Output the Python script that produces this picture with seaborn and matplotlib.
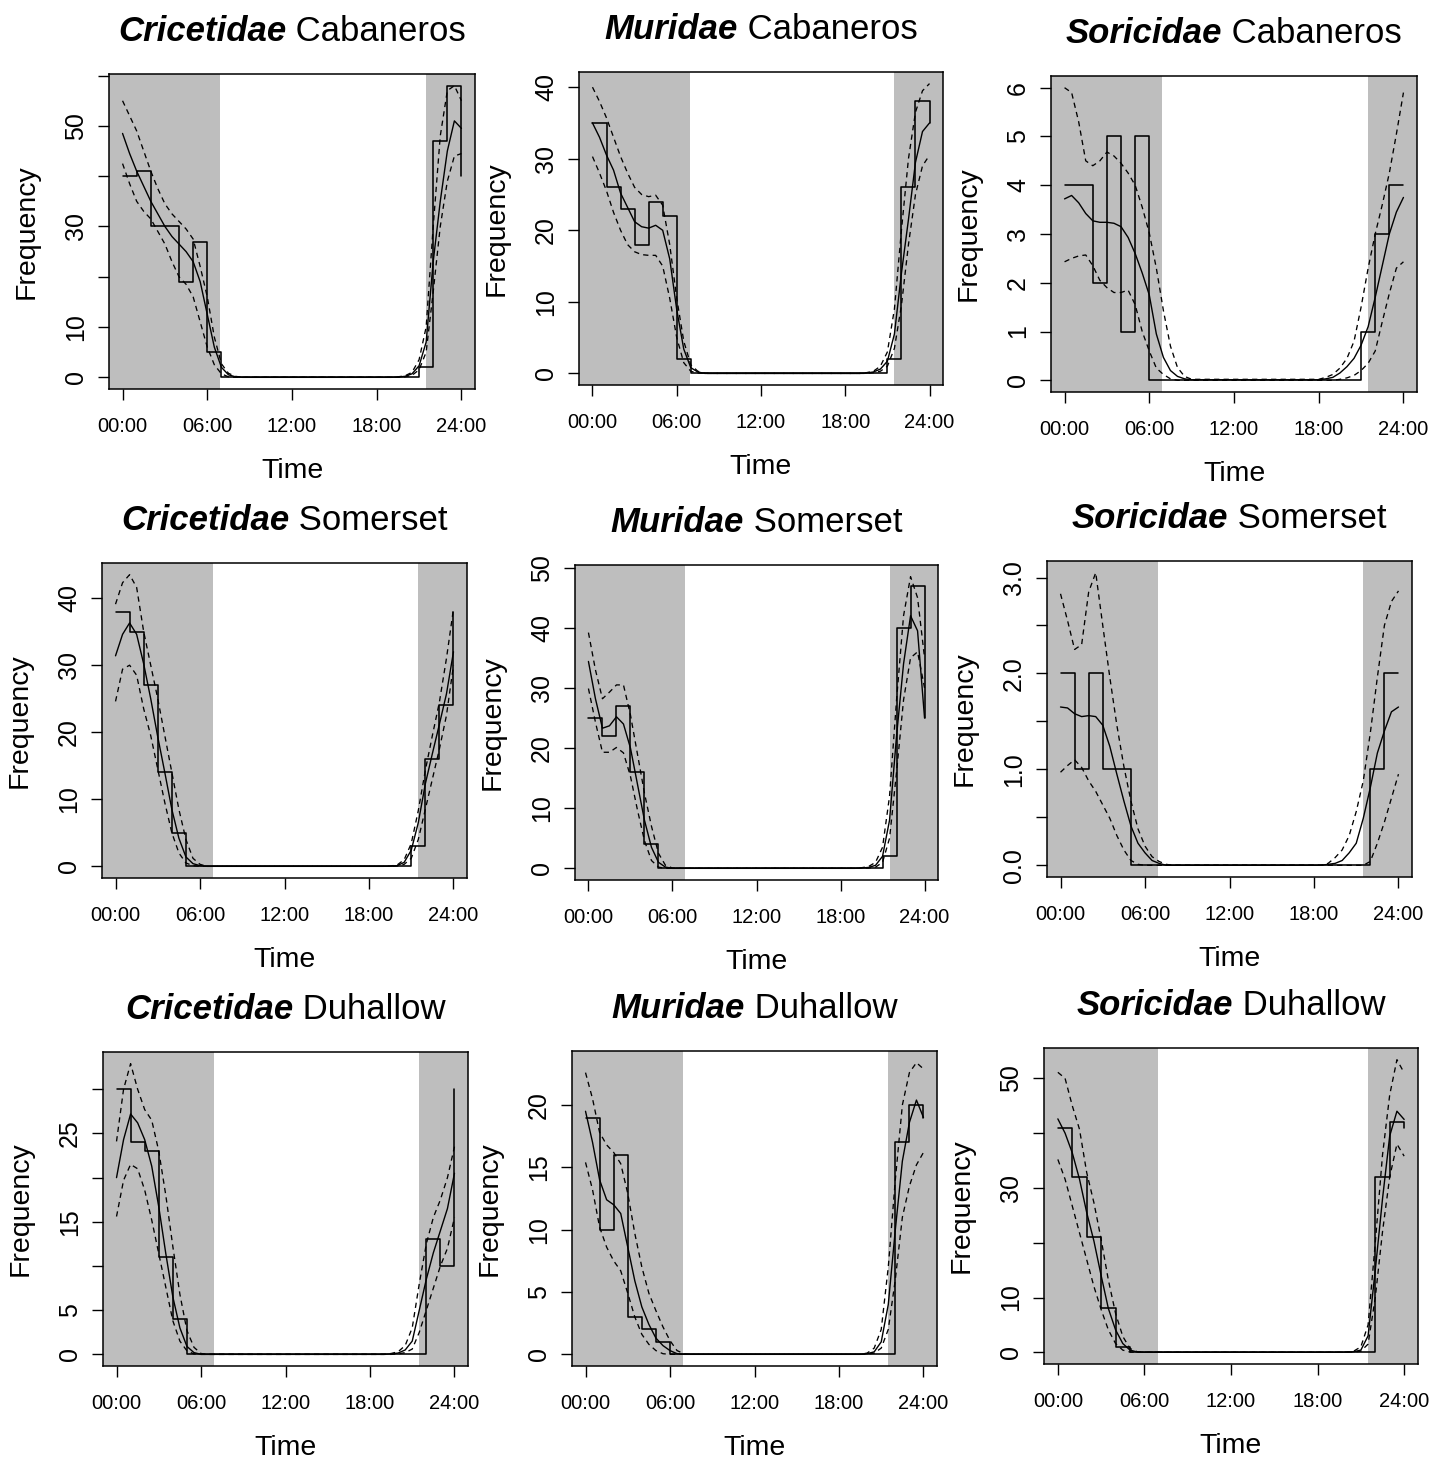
import matplotlib
matplotlib.use("Agg")
import matplotlib.pyplot as plt
from matplotlib.transforms import IdentityTransform
import pandas as pd
import seaborn as sns

# ---------------- data ----------------
hours = list(range(25))                      # hourly bins 00:00 .. 24:00
curve_hours = [0, 0.5, 1, 1.5, 2, 2.5, 3, 3.5, 4, 4.5, 5, 5.5, 6, 6.5, 7, 7.5, 8, 8.5, 9,
               18, 18.5, 19, 19.5, 20, 20.5, 21, 21.5, 22, 22.5, 23, 23.5, 24]
tick_hours = [0, 6, 12, 18, 24]
tick_labels = ["00:00", "06:00", "12:00", "18:00", "24:00"]
sunrise = 6.93
sunset = 21.5

families = ["Cricetidae", "Muridae", "Soricidae"]
sites = ["Cabaneros", "Somerset", "Duhallow"]

# observed hourly frequencies (value at hour h holds for [h, h+1))
cc_counts = [40, 41, 30, 30, 19, 27, 5] + [0] * 14 + [2, 47, 58, 40]
mc_counts = [35, 26, 23, 18, 24, 22, 2] + [0] * 14 + [2, 26, 38, 35]
sc_counts = [4, 4, 2, 5, 1, 5] + [0] * 15 + [1, 3, 4, 4]
cs_counts = [38, 35, 27, 14, 5] + [0] * 16 + [3, 16, 24, 38]
ms_counts = [25, 22, 27, 16, 4] + [0] * 16 + [2, 40, 47, 25]
ss_counts = [2, 1, 2, 1, 1] + [0] * 17 + [1, 2, 2]
cd_counts = [30, 24, 23, 11, 4] + [0] * 17 + [13, 10, 30]
md_counts = [19, 10, 16, 3, 2, 1] + [0] * 16 + [17, 20, 19]
sd_counts = [41, 32, 21, 8, 1] + [0] * 17 + [32, 42, 41]

# fitted activity curves (solid) and confidence bounds (dashed) at curve_hours
cc_fit = [48.5, 44.5, 41, 38, 35, 32.5, 30, 28, 26.5, 25, 23, 19, 12.5, 6, 2, 0.5, 0.1, 0, 0,
          0, 0, 0, 0.05, 0.2, 0.7, 2.3, 7, 23, 35, 45, 51, 49.5]
cc_upper = [55, 52, 49, 45, 41, 37.5, 34.5, 32.5, 31, 29.5, 27.5, 22, 16, 8, 2.7, 0.8, 0.2, 0, 0,
            0, 0, 0, 0.1, 0.3, 1, 3.5, 10, 30, 48, 57, 58, 55]
cc_lower = [42.5, 38.5, 35, 33, 31.5, 29, 26.5, 23, 20, 18.5, 16, 11, 6, 2.5, 0.7, 0.1, 0, 0, 0,
            0, 0, 0, 0, 0.1, 0.4, 1.5, 5, 17, 30, 39, 44, 44.5]

mc_fit = [35, 33, 30.5, 28.4, 25.2, 23.2, 21.2, 20.5, 20.3, 20.7, 20, 16, 8.9, 3.4, 0.8, 0.2, 0, 0, 0,
          0, 0, 0, 0.05, 0.2, 0.6, 1.7, 5.5, 14, 21.5, 29.5, 33.8, 35]
mc_upper = [40, 38, 35.7, 33, 30.3, 28, 26, 25, 24.7, 24.9, 23.5, 18, 10.5, 4.5, 1.2, 0.3, 0.05, 0, 0,
            0, 0, 0, 0.1, 0.3, 1, 3, 9, 20, 30, 36.5, 39.5, 40.5]
mc_lower = [30.3, 28, 25.5, 22.5, 20, 18, 17, 16.6, 16.5, 16.5, 15, 10.5, 5, 1.5, 0.3, 0.05, 0, 0, 0,
            0, 0, 0, 0, 0.1, 0.3, 1, 3.5, 9.5, 18, 25, 29, 30.5]

sc_fit = [3.72, 3.79, 3.64, 3.42, 3.27, 3.24, 3.24, 3.22, 3.15, 2.93, 2.6, 2.2, 1.75, 0.95, 0.47, 0.2, 0.08, 0.03, 0.01,
          0.01, 0.03, 0.06, 0.15, 0.28, 0.45, 0.72, 1.1, 1.7, 2.35, 3.0, 3.45, 3.75]
sc_upper = [6.0, 5.9, 5.3, 4.5, 4.4, 4.5, 4.68, 4.6, 4.45, 4.25, 4.0, 3.55, 3.02, 2.3, 1.43, 0.7, 0.26, 0.08, 0.02,
            0.02, 0.06, 0.12, 0.25, 0.45, 0.8, 1.5, 2.3, 3.0, 3.6, 4.25, 5.05, 5.9]
sc_lower = [2.43, 2.5, 2.55, 2.57, 2.35, 2.05, 1.9, 1.8, 1.8, 1.85, 1.55, 1.0, 0.6, 0.25, 0.12, 0.03, 0, 0, 0,
            0, 0, 0, 0.02, 0.05, 0.1, 0.2, 0.35, 0.6, 1.2, 1.78, 2.3, 2.43]

cs_fit = [31.4, 34.6, 36.3, 34.6, 30.2, 25, 19.3, 14, 8.5, 4.2, 1.4, 0.4, 0.1, 0, 0, 0, 0, 0, 0,
          0, 0, 0, 0.02, 0.1, 0.6, 2.4, 6.5, 12.3, 16.8, 21.2, 25.7, 32]
cs_upper = [39.1, 42.3, 43.5, 41.6, 35, 30, 25, 19.5, 14, 8.5, 4, 1.2, 0.3, 0, 0, 0, 0, 0, 0,
            0, 0, 0, 0.05, 0.2, 1, 3.4, 8.3, 14.3, 19.5, 24.5, 31, 38.4]
cs_lower = [24.6, 29.4, 30, 28.5, 23.5, 19.5, 14.5, 9.5, 5, 2, 0.5, 0.1, 0, 0, 0, 0, 0, 0, 0,
            0, 0, 0, 0, 0.05, 0.3, 1.2, 4, 8.5, 13, 17.5, 22.5, 30]

ms_fit = [34.4, 28.2, 23.3, 23.7, 25.2, 24, 20, 14, 8, 3.5, 1, 0.2, 0, 0, 0, 0, 0, 0, 0,
          0, 0, 0, 0.05, 0.15, 0.5, 2, 8, 22, 34, 42, 39.5, 25]
ms_upper = [39.2, 33, 28.2, 29.3, 30.5, 30.5, 25.5, 19, 12.5, 7, 2.5, 0.5, 0.05, 0, 0, 0, 0, 0, 0,
            0, 0, 0, 0.1, 0.3, 1, 3.5, 12, 28, 42, 48.5, 45, 35]
ms_lower = [29.9, 24.3, 19.3, 19.3, 20.1, 19.2, 15.3, 9.7, 4.6, 1.3, 0.2, 0, 0, 0, 0, 0, 0, 0, 0,
            0, 0, 0, 0, 0.05, 0.2, 1, 5, 16, 28, 35, 36, 30]

ss_fit = [1.65, 1.64, 1.58, 1.55, 1.56, 1.55, 1.46, 1.24, 0.95, 0.67, 0.41, 0.23, 0.13, 0.05, 0.02, 0, 0, 0, 0,
          0, 0, 0.01, 0.02, 0.05, 0.13, 0.23, 0.49, 0.81, 1.17, 1.4, 1.6, 1.65]
ss_upper = [2.83, 2.55, 2.25, 2.3, 2.85, 3.05, 2.5, 1.96, 1.46, 1.03, 0.67, 0.38, 0.2, 0.09, 0.04, 0.01, 0, 0, 0,
            0, 0, 0.02, 0.08, 0.16, 0.31, 0.56, 0.88, 1.38, 1.96, 2.5, 2.75, 2.86]
ss_lower = [0.97, 1.04, 1.1, 1.02, 0.88, 0.77, 0.63, 0.49, 0.31, 0.16, 0.05, 0.01, 0, 0, 0, 0, 0, 0, 0,
            0, 0, 0, 0, 0, 0, 0, 0, 0.04, 0.23, 0.45, 0.7, 0.95]

cd_fit = [20, 24.3, 27.2, 26.2, 24.3, 21.3, 16.7, 11.4, 6.5, 3, 0.9, 0.2, 0, 0, 0, 0, 0, 0, 0,
          0, 0, 0, 0.05, 0.15, 0.5, 1.5, 5, 8.5, 11.5, 14, 16.5, 20.5]
cd_upper = [24.1, 30, 32.9, 30, 27.7, 26.5, 23, 18, 12.2, 6.8, 2.7, 0.8, 0.1, 0, 0, 0, 0, 0, 0,
            0, 0, 0, 0.1, 0.3, 1, 3, 8, 12.5, 15.5, 17.5, 20, 23.5]
cd_lower = [15.6, 19.7, 21.5, 21, 18.6, 15.2, 11.4, 7.6, 3.8, 1.5, 0.4, 0.05, 0, 0, 0, 0, 0, 0, 0,
            0, 0, 0, 0, 0.05, 0.2, 0.6, 2.5, 5, 7.5, 10, 12, 15.5]

md_fit = [19.5, 17, 14, 12.4, 12, 11.3, 8.6, 5.9, 3.8, 2.4, 1.3, 0.7, 0.3, 0.05, 0, 0, 0, 0, 0,
          0, 0, 0, 0, 0.05, 0.2, 1, 4, 10, 15.5, 18.6, 20.4, 19]
md_upper = [22.6, 20.5, 17.8, 16.8, 16.2, 15.3, 12.9, 9.7, 7, 4.9, 3.5, 2.2, 1.1, 0.3, 0.05, 0, 0, 0, 0,
            0, 0, 0, 0, 0.1, 0.5, 2, 7, 14, 20, 22.6, 23.4, 22.9]
md_lower = [15.4, 13.2, 10.2, 8.6, 7.5, 6.7, 4.9, 3, 1.6, 0.8, 0.3, 0.05, 0, 0, 0, 0, 0, 0, 0,
            0, 0, 0, 0, 0.02, 0.1, 0.5, 2, 6, 11, 13.5, 15.2, 16.2]

sd_fit = [42.6, 40, 36.4, 31.6, 25.5, 20.3, 14, 8, 4.1, 1.6, 0.4, 0.05, 0, 0, 0, 0, 0, 0, 0,
          0, 0, 0, 0, 0.02, 0.1, 0.4, 3, 15, 28, 39.5, 44, 42.5]
sd_upper = [51.1, 50, 45, 40.7, 32.8, 27.3, 20.6, 13.2, 7.1, 2.9, 0.7, 0.1, 0, 0, 0, 0, 0, 0, 0,
            0, 0, 0, 0, 0.05, 0.2, 1, 5, 20, 36, 47, 53.4, 51]
sd_lower = [35.2, 31.6, 26.7, 21.8, 16.9, 12, 7.8, 4.1, 1.6, 0.4, 0.05, 0, 0, 0, 0, 0, 0, 0, 0,
            0, 0, 0, 0, 0, 0.05, 0.2, 1.5, 10, 22, 32, 38, 35.8]

# y-axis ticks and which of them carry a label
cc_yticks, cc_ylabels = [0, 10, 20, 30, 40, 50, 60], ["0", "10", "", "30", "", "50", ""]
mc_yticks, mc_ylabels = [0, 10, 20, 30, 40], ["0", "10", "20", "30", "40"]
sc_yticks, sc_ylabels = [0, 1, 2, 3, 4, 5, 6], ["0", "1", "2", "3", "4", "5", "6"]
cs_yticks, cs_ylabels = [0, 10, 20, 30, 40], ["0", "10", "20", "30", "40"]
ms_yticks, ms_ylabels = [0, 10, 20, 30, 40, 50], ["0", "10", "20", "30", "40", "50"]
ss_yticks, ss_ylabels = [0, 0.5, 1, 1.5, 2, 2.5, 3], ["0.0", "", "1.0", "", "2.0", "", "3.0"]
cd_yticks, cd_ylabels = [0, 5, 10, 15, 20, 25, 30], ["0", "5", "", "15", "", "25", ""]
md_yticks, md_ylabels = [0, 5, 10, 15, 20], ["0", "5", "10", "15", "20"]
sd_yticks, sd_ylabels = [0, 10, 20, 30, 40, 50], ["0", "10", "", "30", "", "50"]

# ---------------- layout (pixel boxes: left, right, top, bottom) ----------------
W, H = 1444, 1463
boxes = [
    [(109, 475, 74, 389), (579, 943, 72, 385), (1051, 1417, 76, 392)],
    [(102, 467, 563, 878), (575, 938, 565, 880), (1047, 1412, 561, 877)],
    [(103, 468, 1052, 1366), (572, 937, 1051, 1366), (1044, 1418, 1048, 1364)],
]

panels = [
    [(cc_counts, cc_fit, cc_upper, cc_lower, cc_yticks, cc_ylabels),
     (mc_counts, mc_fit, mc_upper, mc_lower, mc_yticks, mc_ylabels),
     (sc_counts, sc_fit, sc_upper, sc_lower, sc_yticks, sc_ylabels)],
    [(cs_counts, cs_fit, cs_upper, cs_lower, cs_yticks, cs_ylabels),
     (ms_counts, ms_fit, ms_upper, ms_lower, ms_yticks, ms_ylabels),
     (ss_counts, ss_fit, ss_upper, ss_lower, ss_yticks, ss_ylabels)],
    [(cd_counts, cd_fit, cd_upper, cd_lower, cd_yticks, cd_ylabels),
     (md_counts, md_fit, md_upper, md_lower, md_yticks, md_ylabels),
     (sd_counts, sd_fit, sd_upper, sd_lower, sd_yticks, sd_ylabels)],
]

sns.set_style("ticks")
plt.rcParams["font.family"] = ["Liberation Sans", "DejaVu Sans"]
plt.rcParams["axes.linewidth"] = 1.1
for key in ("text.color", "axes.labelcolor", "xtick.color", "ytick.color", "axes.edgecolor"):
    plt.rcParams[key] = "black"

fig = plt.figure(figsize=(W / 100, H / 100), dpi=100)
fig.patch.set_facecolor("white")

GRAY = "#BEBEBE"
DASH = (0, (4.0, 3.2))
axes_info = []

for r in range(3):
    for c in range(3):
        L, R, T, B = boxes[r][c]
        counts, fit, upper, lower, yt, yl = panels[r][c]
        assert len(counts) == 25 and len(fit) == len(upper) == len(lower) == len(curve_hours)
        ax = fig.add_axes([L / W, 1 - B / H, (R - L) / W, (B - T) / H])
        ax.set_facecolor("white")

        ymax = max(max(counts), max(fit), max(upper))
        pad = 0.04 * ymax
        x0, x1 = -0.96, 24.96

        ax.axvspan(x0, sunrise, color=GRAY, lw=0, zorder=0)
        ax.axvspan(sunset, x1, color=GRAY, lw=0, zorder=0)

        steps = pd.DataFrame({"hour": hours, "count": counts})
        curves = pd.DataFrame({"hour": curve_hours, "fit": fit, "upper": upper, "lower": lower})

        sns.lineplot(data=steps, x="hour", y="count", ax=ax, color="black", lw=1.15,
                     drawstyle="steps-post", estimator=None, sort=False, zorder=3)
        sns.lineplot(data=curves, x="hour", y="fit", ax=ax, color="black", lw=1.0,
                     estimator=None, sort=False, zorder=4)
        for col in ("upper", "lower"):
            sns.lineplot(data=curves, x="hour", y=col, ax=ax, color="black", lw=0.95,
                         linestyle=DASH, estimator=None, sort=False, zorder=4)

        ax.set_xlim(x0, x1)
        ax.set_ylim(-pad, ymax + pad)

        ax.set_xticks(tick_hours)
        ax.set_xticklabels(tick_labels)
        ax.set_yticks(yt)
        ax.set_yticklabels(yl, rotation=90, va="center")

        ax.tick_params(axis="both", direction="out", length=8, width=1.0, colors="black")
        ax.tick_params(axis="x", labelsize=14.5, pad=12.5)
        ax.tick_params(axis="y", labelsize=18, pad=7)
        for s in ax.spines.values():
            s.set_visible(True)
            s.set_color("black")
            s.set_linewidth(1.1)

        wpx, hpx = R - L, B - T
        ax.set_xlabel("Time", fontsize=20.5, color="black")
        ax.xaxis.set_label_coords(0.5, -82 / hpx)
        ax.xaxis.label.set_va("center")
        ax.set_ylabel("Frequency", fontsize=20.5, color="black")
        ax.yaxis.set_label_coords(-82 / wpx, 0.5)
        ax.yaxis.label.set_va("center")
        ax.yaxis.label.set_ha("center")

        axes_info.append(((L + R) / 2, T, families[c], sites[r]))

# two-part titles: italic bold family + regular site name, centred over each panel
fig.canvas.draw()
renderer = fig.canvas.get_renderer()
for cx, T, fam, site in axes_info:
    ybase = H - (T - 33)
    t1 = fig.text(0, ybase, fam, fontsize=25, fontweight="bold", fontstyle="italic",
                  color="black", ha="left", va="baseline", transform=IdentityTransform())
    t2 = fig.text(0, ybase, " " + site, fontsize=25, color="black", ha="left", va="baseline",
                  transform=IdentityTransform())
    w1 = t1.get_window_extent(renderer).width
    w2 = t2.get_window_extent(renderer).width
    start = cx - (w1 + w2) / 2
    t1.set_x(start)
    t2.set_x(start + w1)

fig.savefig("out.png", dpi=100, facecolor="white")
